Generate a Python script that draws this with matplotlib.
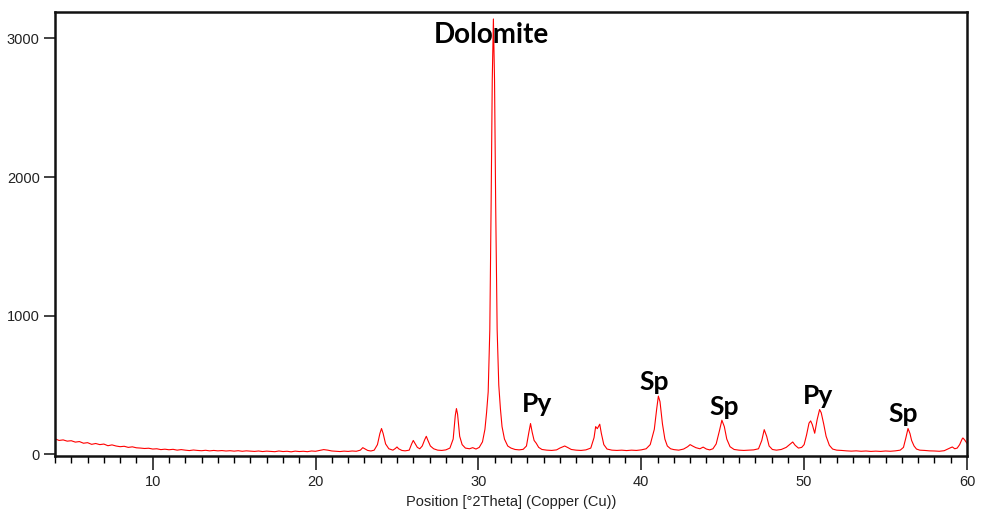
import matplotlib
matplotlib.use("Agg")
import matplotlib.pyplot as plt
from matplotlib.ticker import MultipleLocator

# XRD scan: 2theta (deg) and counts
theta_low = [4.0, 4.25, 4.5, 4.75, 5.0, 5.25, 5.5, 5.75, 6.0, 6.25, 6.5, 6.75,
             7.0, 7.25, 7.5, 7.75, 8.0, 8.25, 8.5, 8.75, 9.0, 9.25, 9.5, 9.75,
             10.0, 10.25, 10.5, 10.75, 11.0, 11.25, 11.5, 11.75, 12.0, 12.25,
             12.5, 12.75, 13.0, 13.25, 13.5, 13.75, 14.0, 14.25, 14.5, 14.75,
             15.0, 15.25, 15.5, 15.75, 16.0, 16.25, 16.5, 16.75, 17.0, 17.25,
             17.5, 17.75, 18.0, 18.25, 18.5, 18.75, 19.0, 19.25, 19.5, 19.75,
             20.0, 20.25, 20.5, 20.75, 21.0, 21.25, 21.5, 21.75, 22.0]
counts_low = [112, 100, 104, 95, 98, 88, 92, 80, 84, 72, 78, 70,
              74, 62, 68, 60, 55, 58, 50, 54, 47, 45, 42, 44,
              38, 40, 34, 37, 33, 36, 30, 34, 30, 27,
              31, 28, 26, 29, 25, 28, 25, 27, 24, 26,
              23, 26, 22, 25, 23, 21, 24, 20, 23, 21,
              19, 24, 20, 22, 18, 23, 20, 22, 19, 24,
              22, 28, 34, 30, 24, 22, 20, 23, 21]

theta_mid = [22.25, 22.5, 22.75, 22.9, 23.05, 23.2, 23.4, 23.6, 23.8, 23.95,
             24.05, 24.15, 24.3, 24.5, 24.75, 24.9, 25.0, 25.1, 25.3, 25.5,
             25.75, 25.9, 26.0, 26.1, 26.25, 26.4, 26.55, 26.7, 26.8, 26.9,
             27.05, 27.25, 27.5, 27.75, 28.0, 28.25, 28.45, 28.58, 28.65, 28.72,
             28.85, 29.0, 29.2, 29.45, 29.65, 29.85, 30.05, 30.25, 30.4, 30.5,
             30.6, 30.7, 30.78, 30.85, 30.92, 30.99, 31.06, 31.15, 31.25, 31.35,
             31.45, 31.6, 31.8, 32.0, 32.25, 32.5, 32.75, 32.95, 33.1, 33.2,
             33.3, 33.42, 33.55, 33.7, 33.9, 34.2, 34.5, 34.8, 35.0, 35.3,
             35.5, 35.7, 36.0, 36.3, 36.6, 36.9, 37.1, 37.2, 37.3, 37.45,
             37.55, 37.7, 37.9, 38.2, 38.5, 38.8, 39.1, 39.4, 39.7, 40.0,
             40.3]
counts_mid = [24, 22, 30, 48, 38, 28, 24, 30, 70, 150,
              186, 150, 75, 40, 30, 42, 53, 40, 28, 25,
              30, 75, 100, 80, 50, 40, 60, 105, 130, 100,
              60, 40, 30, 28, 32, 45, 110, 280, 330, 290,
              130, 70, 45, 40, 48, 38, 50, 90, 180, 300,
              450, 900, 1800, 2700, 3140, 2700, 1800, 900, 500, 330,
              200, 110, 60, 45, 35, 32, 36, 60, 160, 222,
              160, 100, 80, 50, 35, 30, 28, 32, 45, 60,
              48, 35, 30, 28, 32, 45, 120, 200, 185, 217,
              150, 70, 38, 30, 28, 30, 27, 30, 28, 32,
              40]

theta_high = [40.55, 40.8, 40.95, 41.05, 41.15, 41.3, 41.45, 41.6, 41.8, 42.0,
              42.3, 42.6, 42.85, 43.0, 43.15, 43.35, 43.6, 43.8, 44.0, 44.2,
              44.4, 44.6, 44.8, 44.95, 45.1, 45.25, 45.45, 45.7, 46.0, 46.3,
              46.6, 46.9, 47.2, 47.4, 47.55, 47.7, 47.85, 48.05, 48.3, 48.6,
              48.9, 49.15, 49.3, 49.45, 49.65, 49.85, 50.0, 50.15, 50.3, 50.4,
              50.5, 50.65, 50.8, 50.95, 51.05, 51.2, 51.35, 51.55, 51.75, 52.0,
              52.3, 52.6, 52.9, 53.2, 53.5, 53.8, 54.1, 54.4, 54.7, 55.0,
              55.3, 55.6, 55.9, 56.1, 56.25, 56.38, 56.5, 56.6, 56.75, 56.9,
              57.1, 57.4, 57.7, 58.0, 58.3, 58.6, 58.85, 59.0, 59.1, 59.25,
              59.4, 59.55, 59.7, 59.75, 59.85, 60.0]
counts_high = [70, 180, 330, 420, 380, 220, 110, 60, 40, 34,
               30, 38, 55, 70, 60, 48, 40, 52, 38, 32,
               40, 75, 170, 246, 200, 110, 55, 35, 30, 28,
               30, 32, 40, 100, 178, 130, 60, 35, 30, 35,
               50, 75, 89, 65, 45, 50, 70, 140, 225, 241,
               215, 152, 250, 323, 300, 220, 130, 65, 38, 30,
               28, 25, 23, 25, 22, 24, 21, 23, 21, 24,
               22, 25, 30, 50, 120, 186, 150, 100, 60, 38,
               30, 28, 25, 24, 22, 26, 40, 48, 53, 40,
               45, 70, 110, 118, 105, 80]

# phase labels: text, 2theta, counts (baseline of the text)
phase_names = ["Dolomite", "Py", "Sp", "Sp", "Py", "Sp"]
phase_theta = [30.79, 33.59, 40.77, 45.07, 50.85, 56.07]
phase_counts = [2964, 304, 463, 287, 366, 234]
phase_sizes = [20, 19, 19, 19, 19, 19]

two_theta = theta_low + theta_mid + theta_high
counts = counts_low + counts_mid + counts_high

tick_font = ["Liberation Sans", "DejaVu Sans"]

fig = plt.figure(figsize=(9.82, 5.15), dpi=100)
ax = fig.add_axes([0.056, 0.1146, 0.9287, 0.862])
ax.plot(two_theta, counts, color="#ff0000", linewidth=0.8)

ax.set_xlim(4, 60)
ax.set_ylim(-12, 3190)
ax.xaxis.set_major_locator(MultipleLocator(10))
ax.xaxis.set_minor_locator(MultipleLocator(1))
ax.yaxis.set_major_locator(MultipleLocator(1000))
ax.tick_params(axis="x", which="major", length=10, width=1.2, pad=4,
               labelsize=10.5, colors="#222222")
ax.tick_params(axis="x", which="minor", length=5, width=1.0)
ax.tick_params(axis="y", which="major", length=8, width=1.2, pad=3,
               labelsize=10.5, colors="#222222")
for lab in ax.get_xticklabels() + ax.get_yticklabels():
    lab.set_family(tick_font)
for sp in ax.spines.values():
    sp.set_linewidth(1.8)
    sp.set_color("#111111")

ax.set_xlabel("Position [°2Theta] (Copper (Cu))", fontsize=10.5,
              family=tick_font, color="#222222", labelpad=4)

for name, t, c, s in zip(phase_names, phase_theta, phase_counts, phase_sizes):
    ax.text(t, c, name, ha="center", va="baseline", fontsize=s,
            fontweight="bold", family=["Lato", "DejaVu Sans"], color="black")

fig.savefig("out.png", dpi=100)
